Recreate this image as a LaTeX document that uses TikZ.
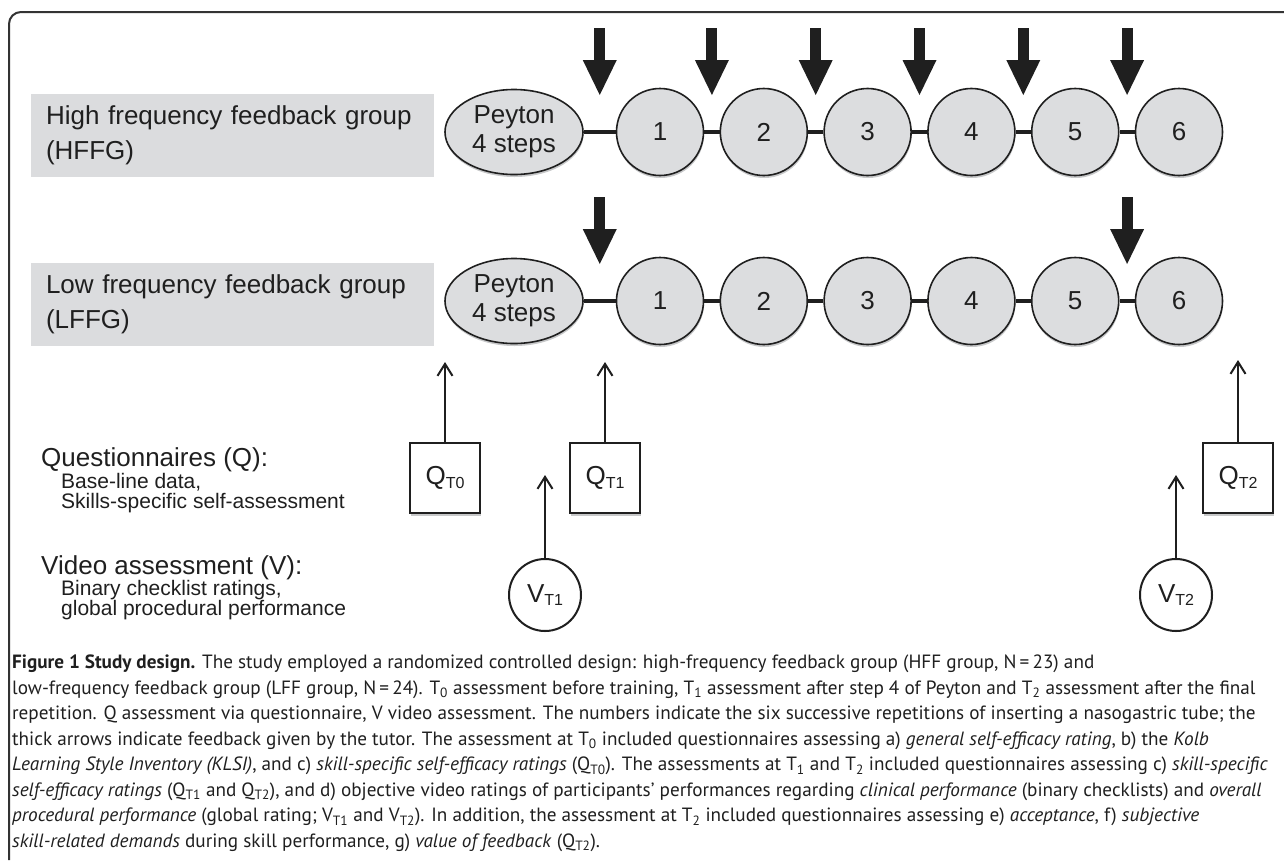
\documentclass[tikz,border=0pt]{standalone}
\usepackage{fontspec}
\setmainfont{Liberation Sans}
\newfontfamily\captionfont{PT Sans}
\usetikzlibrary{arrows.meta,positioning,shapes.geometric,shadows,calc}
\definecolor{stepFill}{RGB}{220,221,223}
\definecolor{labelFill}{RGB}{219,220,222}
\definecolor{shadowGray}{RGB}{185,186,188}
\colorlet{ink}{black!88}
\newcommand{\Tsub}[1]{\raisebox{-3.5pt}{\fontsize{16}{16}\selectfont #1}}
\tikzset{
  softshadow/.style={drop shadow={shadow xshift=0.5pt, shadow yshift=-2.5pt, fill=shadowGray, opacity=0.8}},
  feedback/.style={draw=ink, line width=11pt, -{Triangle[length=35pt,width=34pt,line width=0pt]}},
  measure/.style={draw=ink, line width=2pt, -{Straight Barb[length=12pt,width=15pt]}},
  link/.style={draw=ink, line width=3.3pt},
  groupbox/.style={
    rectangle,
    fill=labelFill,
    minimum width=403pt,
    minimum height=83pt,
    inner xsep=15pt,
    text width=373pt,
    align=left,
    text=ink,
    font=\fontsize{26}{35}\selectfont
  },
  peyton/.style={
    ellipse,
    draw=ink,
    fill=stepFill,
    line width=1.6pt,
    minimum width=138pt,
    minimum height=85pt,
    inner sep=0pt,
    align=center,
    text=ink,
    softshadow,
    font=\fontsize{26}{29}\selectfont
  },
  rep/.style={
    circle,
    draw=ink,
    fill=stepFill,
    line width=1.6pt,
    minimum size=87pt,
    inner sep=0pt,
    text=ink,
    softshadow,
    font=\fontsize{26}{26}\selectfont
  },
  qbox/.style={
    rectangle,
    draw=ink,
    fill=white,
    line width=2pt,
    minimum size=70pt,
    inner sep=0pt,
    text=ink,
    softshadow,
    font=\fontsize{26}{26}\selectfont
  },
  vcircle/.style={
    circle,
    draw=ink,
    fill=white,
    line width=2pt,
    minimum size=72pt,
    inner sep=0pt,
    text=ink,
    font=\fontsize{26}{26}\selectfont
  },
  heading/.style={anchor=west, inner sep=0pt, text=ink, font=\fontsize{26}{30}\selectfont},
  subnote/.style={anchor=west, inner sep=0pt, align=left, text=ink, font=\fontsize{21}{20}\selectfont},
  frame/.style={draw=black!80, line width=2pt, rounded corners=12pt}
}

\begin{document}
\begin{tikzpicture}[x=1pt,y=-1pt]
  \useasboundingbox (0,0) rectangle (1284,860);
  \draw[frame] (9,860) -- (9,12) -- (1284,12);

  % group rows
  \node[groupbox] (hlabel) at (232.5,135.5) {High frequency feedback group\\(HFFG)};
  \node[groupbox] (llabel) at (232.5,304.5) {Low frequency feedback group\\(LFFG)};

  \node[peyton] (hpey) at (514,132) {Peyton\\4 steps};
  \node[peyton] (lpey) at (514,301) {Peyton\\4 steps};
  \foreach \i in {1,...,6} {
    \node[rep] (h\i) at ({660+103.8*(\i-1)},132) {\i};
    \node[rep] (l\i) at ({660+103.8*(\i-1)},301) {\i};
  }

  \draw[link] (hpey) -- (h1);
  \draw[link] (lpey) -- (l1);
  \foreach \i [count=\j from 2] in {1,...,5} {
    \draw[link] (h\i) -- (h\j);
    \draw[link] (l\i) -- (l\j);
  }

  % feedback by the tutor
  \coordinate (hgap0) at ($(hpey.east)!0.5!(h1.west)$);
  \coordinate (lgap0) at ($(lpey.east)!0.5!(l1.west)$);
  \foreach \i [count=\j from 2] in {1,...,5}
    \coordinate (hgap\i) at ($(h\i.east)!0.5!(h\j.west)$);
  \coordinate (lgap5) at ($(l5.east)!0.5!(l6.west)$);
  \foreach \g in {hgap0,hgap1,hgap2,hgap3,hgap4,hgap5,lgap0,lgap5}
    \draw[feedback] ([yshift=104pt]\g) -- ([yshift=37pt]\g);

  % assessments
  \node[qbox] (q0) at (445,478) {Q\Tsub{T0}};
  \node[qbox] (q1) at (605,478) {Q\Tsub{T1}};
  \node[qbox] (q2) at (1238,478) {Q\Tsub{T2}};
  \node[vcircle] (v1) at (545,595) {V\Tsub{T1}};
  \node[vcircle] (v2) at (1176,595) {V\Tsub{T2}};

  \coordinate (q0top) at (445,362);
  \coordinate (q1top) at (605,362);
  \coordinate (q2top) at (1238,360);
  \coordinate (v1top) at (545,475);
  \coordinate (v2top) at (1176,475);
  \draw[measure] (q0) -- (q0top);
  \draw[measure] (q1) -- (q1top);
  \draw[measure] (q2) -- (q2top);
  \draw[measure] (v1) -- (v1top);
  \draw[measure] (v2) -- (v2top);

  % legend
  \node[heading] (qhead) at (41,460) {Questionnaires (Q):};
  \node[subnote] (qlist) at (61,493) {Base-line data,\\Skills-specific self-assessment};
  \node[heading] (vhead) at (41,568) {Video assessment (V):};
  \node[subnote] (vlist) at (61,600) {Binary checklist ratings,\\global procedural performance};

  % caption
  \node[anchor=north west, inner sep=0pt, align=left, text=ink,
        font=\captionfont\fontsize{19.2}{25.5}\selectfont] (caption) at (12,655) {%
    \textbf{Figure 1 Study design.} The study employed a randomized controlled design: high-frequency feedback group (HFF group, N\,=\,23) and\\
    low-frequency feedback group (LFF group, N\,=\,24). T\textsubscript{0} assessment before training, T\textsubscript{1} assessment after step 4 of Peyton and T\textsubscript{2} assessment after the final\\
    repetition. Q assessment via questionnaire, V video assessment. The numbers indicate the six successive repetitions of inserting a nasogastric tube; the\\
    thick arrows indicate feedback given by the tutor. The assessment at T\textsubscript{0} included questionnaires assessing a) \textit{general self-efficacy rating}, b) the \textit{Kolb}\\
    \textit{Learning Style Inventory (KLSI)}, and c) \textit{skill-specific self-efficacy ratings} (Q\textsubscript{T0}). The assessments at T\textsubscript{1} and T\textsubscript{2} included questionnaires assessing c) \textit{skill-specific}\\
    \textit{self-efficacy ratings} (Q\textsubscript{T1} and Q\textsubscript{T2}), and d) objective video ratings of participants’ performances regarding \textit{clinical performance} (binary checklists) and \textit{overall}\\
    \textit{procedural performance} (global rating; V\textsubscript{T1} and V\textsubscript{T2}). In addition, the assessment at T\textsubscript{2} included questionnaires assessing e) \textit{acceptance}, f) \textit{subjective}\\
    \textit{skill-related demands} during skill performance, g) \textit{value of feedback} (Q\textsubscript{T2}).};
\end{tikzpicture}
\end{document}
